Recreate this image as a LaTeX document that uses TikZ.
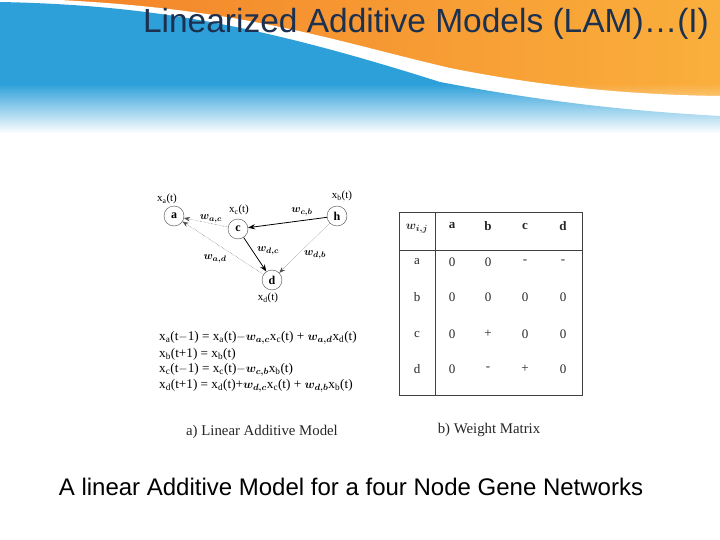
\documentclass[tikz,border=0pt]{standalone}
\usepackage{amsmath,bm}
\usepackage{fontspec}
\setmainfont{Liberation Serif}
\newfontfamily\arialf{Liberation Sans}
\usetikzlibrary{arrows.meta}
\definecolor{ttl}{RGB}{28,48,80}
\definecolor{blu}{RGB}{45,160,218}
\definecolor{orgA}{RGB}{242,128,40}
\definecolor{orgB}{RGB}{250,175,60}
\tikzset{
 gnode/.style={circle,draw=black!70,thin,minimum size=20pt,inner sep=0pt,font=\bfseries\fontsize{12}{12}\selectfont},
 lbl/.style={font=\fontsize{11}{11}\selectfont,inner sep=0pt},
 wl/.style={font=\fontsize{11}{11}\selectfont,inner sep=0pt},
 dot/.style={densely dotted,black!70,-{Stealth[length=6pt]}},
 sol/.style={black,thick,-{Stealth[length=7pt]}},
 cell/.style={font=\fontsize{13}{13}\selectfont,inner sep=0pt,text=black!85},
 eq/.style={font=\fontsize{13.2}{14}\selectfont,anchor=west,inner sep=0pt}
}
\begin{document}
\begin{tikzpicture}[x=1pt,y=-1pt]
\useasboundingbox (0,0) rectangle (720,540);
\fill[white] (0,0) rectangle (720,540);
% header
\shade[left color=orgA,right color=orgB] (0,0) rectangle (720,110);
\fill[white] (0,0) -- (60,0) .. controls (250,10) and (330,40) .. (450,68) .. controls (560,90) and (650,95) .. (720,96) -- (720,140) -- (0,140) -- cycle;
\fill[blu] (0,2) .. controls (150,5) and (260,25) .. (440,82) .. controls (560,105) and (650,112) .. (720,116) -- (720,140) -- (0,140) -- cycle;
\foreach \i in {0,...,24}{
 \pgfmathsetmacro\op{(\i+1)/25}
 \fill[white,opacity=\op] (0,{85+\i*2}) rectangle (720,{87.2+\i*2});
}
\fill[white] (0,135) rectangle (720,140);
\node[font=\arialf\fontsize{33.5}{34}\selectfont,text=ttl] (title) at (426,24) {Linearized Additive Models (LAM)\dots(I)};
% graph
\node[gnode] (a) at (174,216) {a};
\node[gnode] (c) at (238,229) {c};
\node[gnode] (b) at (337,216) {h};
\node[gnode] (d) at (272,280) {d};
\node[lbl] (la) at (167,199) {x$_\mathrm{a}$(t)};
\node[lbl] (lc) at (239,210) {x$_\mathrm{c}$(t)};
\node[lbl] (lb) at (342,196) {x$_\mathrm{b}$(t)};
\node[lbl] (ld) at (268,298) {x$_\mathrm{d}$(t)};
\draw[sol] (b) -- (c);
\draw[dot] (c) -- (a);
\draw[sol] (c) -- (d);
\draw[dot] (d) -- (a);
\draw[dot] (b) -- (d);
\node[wl] (wcb) at (302,212) {$\bm{w_{c,b}}$};
\node[wl] (wac) at (211,219) {$\bm{w_{a,c}}$};
\node[wl] (wdc) at (268,251) {$\bm{w_{d,c}}$};
\node[wl] (wad) at (215,259) {$\bm{w_{a,d}}$};
\node[wl] (wdb) at (315,255) {$\bm{w_{d,b}}$};
% equations
\node[eq] (e1) at (159,338) {x$_\mathrm{a}$(t$-$1) = x$_\mathrm{a}$(t)$-\bm{w_{a,c}}$x$_\mathrm{c}$(t) + $\bm{w_{a,d}}$x$_\mathrm{d}$(t)};
\node[eq] (e2) at (159,354) {x$_\mathrm{b}$(t+1) = x$_\mathrm{b}$(t)};
\node[eq] (e3) at (159,370) {x$_\mathrm{c}$(t$-$1) = x$_\mathrm{c}$(t)$-\bm{w_{c,b}}$x$_\mathrm{b}$(t)};
\node[eq] (e4) at (159,386) {x$_\mathrm{d}$(t+1) = x$_\mathrm{d}$(t)+$\bm{w_{d,c}}$x$_\mathrm{c}$(t) + $\bm{w_{d,b}}$x$_\mathrm{b}$(t)};
\node[font=\fontsize{14.8}{15}\selectfont,text=black!85] (capa) at (262,432) {a) Linear Additive Model};
% table
\draw[black!75] (399,212) rectangle (582,395);
\draw[black!75] (435,212) -- (435,395);
\draw[black!75] (399,250) -- (582,250);
\node[cell] (h0) at (417,229) {$\bm{w_{i,j}}$};
\foreach \n/\x in {a/452,b/488,c/525,d/563}{\node[cell,font=\bfseries\fontsize{13}{13}\selectfont] (h\n) at (\x,226) {\n};}
\foreach \r/\y/\va/\vb/\vc/\vd in {a/262/0/0/-/-, b/297/0/0/0/0, c/334/0/+/0/0, d/369/0/-/+/0}{
 \node[cell] (r\r) at (417,\y) {\r};
 \node[cell] at (452,\y) {\va};
 \node[cell] at (488,\y) {\vb};
 \node[cell] at (525,\y) {\vc};
 \node[cell] at (563,\y) {\vd};
}
\node[font=\fontsize{14.8}{15}\selectfont,text=black!85] (capb) at (489,430) {b) Weight Matrix};
\node[font=\arialf\fontsize{24}{24}\selectfont] (foot) at (351,487) {A linear Additive Model for a four Node Gene Networks};
\end{tikzpicture}
\end{document}
